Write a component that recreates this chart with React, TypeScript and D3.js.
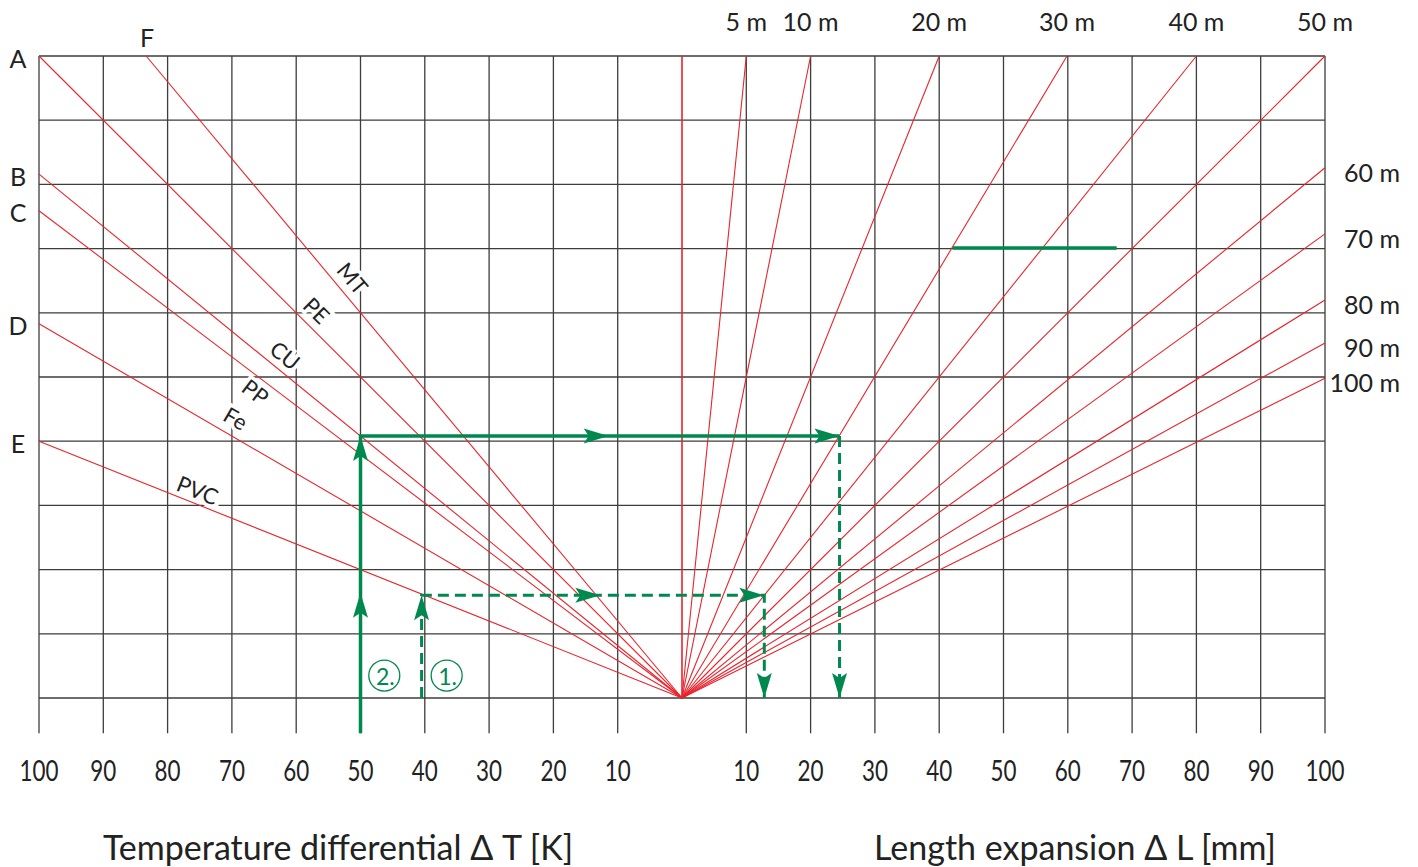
import * as d3 from 'd3'

// Temperature differential (left, K) and length expansion (right, mm)
const tempTicks = [100, 90, 80, 70, 60, 50, 40, 30, 20, 10]
const expTicks = [10, 20, 30, 40, 50, 60, 70, 80, 90, 100]

// material lines: grid rows climbed per 100 K
const materials = ['MT', 'PE', 'CU', 'PP', 'Fe', 'PVC']
const materialRise = [12.0, 10.0, 8.16, 7.59, 5.83, 4.0]
const edgeLetters = ['F', 'A', 'B', 'C', 'D', 'E']
// label anchor (ΔT, row)
const labelTemp = [51.2, 56.8, 61.7, 66.3, 69.4, 75.3]
const labelRow = [6.54, 6.04, 5.34, 4.77, 4.36, 3.24]

// pipe length lines: grid rows climbed per 100 mm
const pipeLengths = ['5 m', '10 m', '20 m', '30 m', '40 m', '50 m', '60 m', '70 m', '80 m', '90 m', '100 m']
const lengthRise = [100, 50, 25, 16.7, 12.5, 10, 8.26, 7.23, 6.2, 5.53, 4.98]

// worked examples (signed x: negative = ΔT side, positive = ΔL side; y in grid rows)
const route1 = [[-40.5, 0], [-40.5, 1.6], [12.8, 1.6], [12.8, 0]]
const route2Solid = [[-50, -0.55], [-50, 4.08], [24.5, 4.08]]
const route2Dash = [[24.5, 4.08], [24.5, 0]]
const arrowTips = [
  [-40.5, 1.6, 'up'], [-12.7, 1.6, 'right'], [12.8, 1.6, 'right'], [12.8, 0, 'down'],
  [-50, 1.64, 'up'], [-50, 4.08, 'up'], [-11.4, 4.08, 'right'], [24.5, 4.08, 'right'], [24.5, 0, 'down'],
]
const stepLabels = ['2.', '1.']
const stepX = [-46.3, -36.6]
const markLine = [[42.1, 7.01], [67.6, 7.01]]

const W = 1418
const H = 867
const RED = '#e8242c'
const GREEN = '#00894f'
const GRID = '#3d3d3d'
const FONT = "'Lato', 'Noto Sans', sans-serif"

export default function App() {
  const x = d3.scaleLinear().domain([-100, 100]).range([39, 1325])
  const y = d3.scaleLinear().domain([0, 10]).range([698, 56])
  const line = d3.line<number[]>().x((d) => x(d[0])).y((d) => y(d[1]))

  const vTicks = d3.range(-100, 101, 10).filter((v) => v !== 0)
  const hTicks = d3.range(0, 11, 1)

  const matEnds = materialRise.map((r) => (r > 10 ? [-(100 * 10) / r, 10] : [-100, r]))
  const lenEnds = lengthRise.map((r) => (r > 10 ? [(100 * 10) / r, 10] : [100, r]))

  const arrow = (tx: number, ty: number, dir: string, i: number) => {
    const rot = dir === 'up' ? -90 : dir === 'down' ? 90 : 0
    return (
      <path
        key={`a${i}`}
        d="M0,0 L-25,-7.5 L-20,0 L-25,7.5 Z"
        fill={GREEN}
        transform={`translate(${x(tx)},${y(ty)}) rotate(${rot})`}
      />
    )
  }

  const tick = (key: string, px: number, t: number) => (
    <text
      key={key}
      transform={`translate(${px},770) scale(0.8,1)`}
      textAnchor="middle"
      dominantBaseline="central"
      fontFamily={FONT}
      fontSize={28}
      fill="#222"
    >
      {t}
    </text>
  )

  return (
    <svg width={W} height={H} style={{ position: 'absolute', left: 0, top: 0, background: '#fff' }}>
      {/* grid */}
      <g stroke={GRID} strokeWidth={1.3}>
        {vTicks.map((v) => (
          <line key={`v${v}`} x1={x(v)} x2={x(v)} y1={y(10)} y2={y(-0.55)} />
        ))}
        {hTicks.map((h) => (
          <line key={`h${h}`} x1={x(-100)} x2={x(100)} y1={y(h)} y2={y(h)} />
        ))}
      </g>

      {/* material labels with white halo over the grid */}
      {materials.map((m, i) => {
        const ang = (Math.atan2(y(0) - y(matEnds[i][1]), x(0) - x(matEnds[i][0])) * 180) / Math.PI
        return (
          <text
            key={m}
            x={0}
            y={0}
            transform={`translate(${x(-labelTemp[i])},${y(labelRow[i])}) rotate(${ang})`}
            textAnchor="middle"
            dominantBaseline="central"
            fontFamily={FONT}
            fontSize={22}
            fill="#222"
            stroke="#fff"
            strokeWidth={7}
            paintOrder="stroke"
          >
            {m}
          </text>
        )
      })}

      {/* red lines */}
      <g stroke={RED} strokeWidth={1.1} fill="none">
        <line x1={x(0)} x2={x(0)} y1={y(0)} y2={y(10)} strokeWidth={1.6} />
        {matEnds.map((e, i) => (
          <path key={`m${i}`} d={line([[0, 0], e]) || ''} />
        ))}
        {lenEnds.map((e, i) => (
          <path key={`l${i}`} d={line([[0, 0], e]) || ''} />
        ))}
      </g>

      {/* edge letters */}
      {edgeLetters.map((l, i) => {
        const e = matEnds[i]
        const top = e[1] >= 10 && e[0] > -100
        return (
          <text
            key={l}
            x={top ? x(e[0]) + 1 : 18}
            y={top ? 37 : y(e[1]) + 1.5}
            textAnchor="middle"
            dominantBaseline="central"
            fontFamily={FONT}
            fontSize={25}
            fill="#222"
          >
            {l}
          </text>
        )
      })}

      {/* pipe length labels */}
      {pipeLengths.map((p, i) => {
        const e = lenEnds[i]
        const top = e[1] >= 10
        return (
          <text
            key={p}
            x={top ? x(e[0]) : 1400}
            y={top ? 21 : y(e[1]) + 4}
            textAnchor={top ? 'middle' : 'end'}
            dominantBaseline="central"
            fontFamily={FONT}
            fontSize={25}
            fill="#222"
          >
            {p}
          </text>
        )
      })}

      {/* green worked examples */}
      <g fill="none" stroke={GREEN}>
        <path d={line(markLine as any) || ''} strokeWidth={3.5} />
        <path d={line(route2Solid as any) || ''} strokeWidth={3.5} />
        <path d={line(route2Dash as any) || ''} strokeWidth={3} strokeDasharray="11,6" />
        <path d={line(route1 as any) || ''} strokeWidth={3} strokeDasharray="11,6" />
      </g>
      {arrowTips.map((a, i) => arrow(a[0] as number, a[1] as number, a[2] as string, i))}
      {stepLabels.map((s, i) => (
        <g key={s} transform={`translate(${x(stepX[i])},${y(0.35)})`}>
          <circle r={15.5} fill="#fff" stroke={GREEN} strokeWidth={1.3} />
          <text textAnchor="middle" dominantBaseline="central" fontFamily={FONT} fontSize={23} fill={GREEN} x={1}>
            {s}
          </text>
        </g>
      ))}

      {/* tick labels */}
      {tempTicks.map((t) => tick(`t${t}`, x(-t), t))}
      {expTicks.map((t) => tick(`e${t}`, x(t), t))}

      {/* axis titles */}
      <text x={338} y={860} textAnchor="middle" fontFamily={FONT} fontSize={34} fill="#222">
        Temperature differential Δ T [K]
      </text>
      <text x={1075} y={860} textAnchor="middle" fontFamily={FONT} fontSize={34} fill="#222">
        Length expansion Δ L [mm]
      </text>
    </svg>
  )
}
